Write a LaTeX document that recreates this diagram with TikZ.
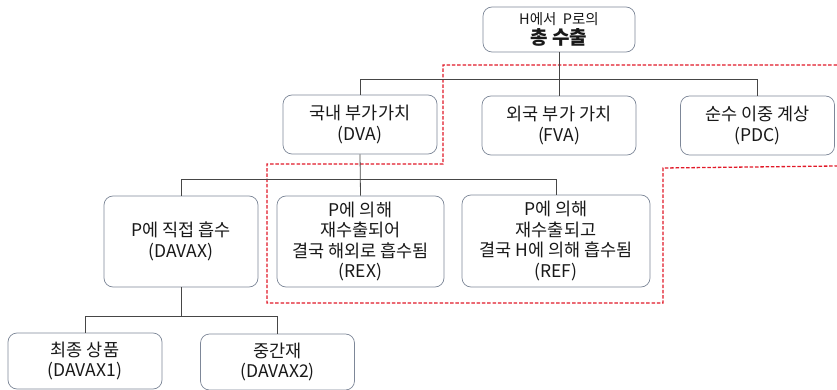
\documentclass[tikz,border=0pt]{standalone}
\usepackage{fontspec}
\setmainfont{Noto Sans CJK KR}
\definecolor{boxline}{RGB}{125,135,152}
\definecolor{conn}{RGB}{70,70,70}
\definecolor{redline}{RGB}{225,25,40}
\definecolor{txt}{RGB}{25,25,25}
\begin{document}
\begin{tikzpicture}[x=1pt,y=-1pt,
  box/.style={draw=boxline,line width=0.7pt,rounded corners=9pt,fill=white,
    align=center,text=txt,inner sep=0pt,font=\fontsize{17.5}{20.5}\selectfont},
  link/.style={draw=conn,line width=0.8pt},
  redbound/.style={draw=redline,line width=1.3pt,dash pattern=on 3.5pt off 1.8pt}]
\useasboundingbox (0,0) rectangle (837,390);
% red dashed boundary
\draw[redbound] (837,65) -- (443,65) -- (443,164) -- (267,164) -- (267,303) -- (663,303) -- (663,168) -- (837,166);
% nodes
\node[box,minimum width=152pt,minimum height=45pt] (top) at (559,29.5)
  {{\fontsize{14.5}{17}\selectfont H에서\ \ P로의}\\[-1pt]{\fontsize{19}{21}\selectfont\bfseries 총 수출}};
\node[box,minimum width=154pt,minimum height=59pt] (dva) at (360,124.5) {국내 부가가치\\(DVA)};
\node[box,minimum width=154pt,minimum height=59pt] (fva) at (559,125.5) {외국 부가 가치\\(FVA)};
\node[box,minimum width=154pt,minimum height=59pt] (pdc) at (757.5,125.5) {순수 이중 계상\\(PDC)};
\node[box,minimum width=154pt,minimum height=91pt] (davax) at (181,241.5) {P에 직접 흡수\\(DAVAX)};
\node[box,minimum width=167pt,minimum height=91pt] (rex) at (360.5,241.5) {P에 의해\\재수출되어\\결국 해외로 흡수됨\\(REX)};
\node[box,minimum width=188pt,minimum height=92pt] (ref) at (556,241) {P에 의해\\재수출되고\\결국 H에 의해 흡수됨\\(REF)};
\node[box,minimum width=154pt,minimum height=56pt] (d1) at (85,361) {최종 상품\\(DAVAX1)};
\node[box,minimum width=154pt,minimum height=56pt] (d2) at (277.5,362) {중간재\\(DAVAX2)};
% connectors
\draw[link] (top.south) -- (fva.north);
\draw[link] (dva.north) -- ++(0,-15) -| (pdc.north);
\draw[link] (dva.south) -- (rex.north);
\draw[link] (davax.north) -- ++(0,-16) -| (ref.north);
\draw[link] (davax.south) -- ++(0,30);
\draw[link] (d1.north) -- ++(0,-16) -| (d2.north);
\end{tikzpicture}
\end{document}
